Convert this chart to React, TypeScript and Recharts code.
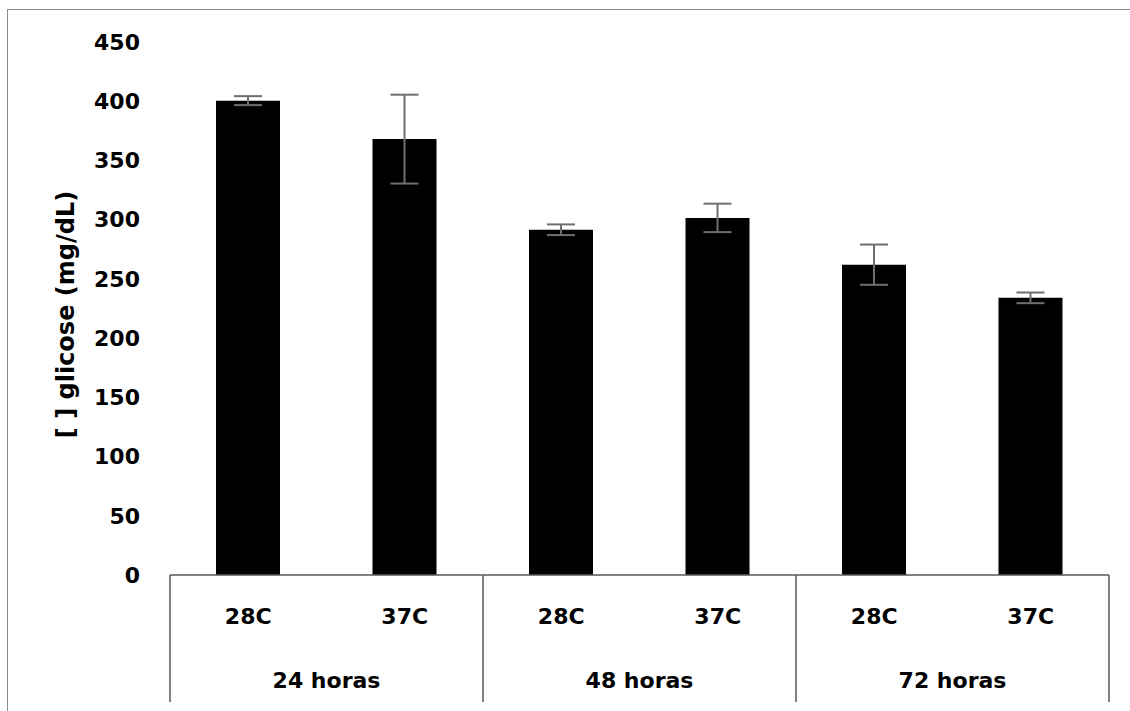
import { Bar, BarChart, ErrorBar, Label, XAxis, YAxis } from "recharts";

const temps = ["28C", "37C", "28C", "37C", "28C", "37C"];
const groups = ["24 horas", "24 horas", "48 horas", "48 horas", "72 horas", "72 horas"];
const glucose = [400.5, 368, 291.5, 301.5, 262, 234];
const glucoseErr = [3.8, 37.5, 4.5, 12, 17, 4.5];
const yTicks = [0, 50, 100, 150, 200, 250, 300, 350, 400, 450];

const data = temps.map((t, i) => ({
  temp: t,
  group: groups[i],
  value: glucose[i],
  err: glucoseErr[i],
}));

const FONT = "'DejaVu Sans', sans-serif";
const AXIS = "#595959";

function CategoryTick(props: any) {
  const { x, y, index, payload, width, visibleTicksCount } = props;
  const band = width / visibleTicksCount;
  const first = index === 0 || groups[index - 1] !== groups[index];
  const last = index === visibleTicksCount - 1;
  return (
    <g>
      <text
        x={x}
        y={y + 41}
        textAnchor="middle"
        dominantBaseline="central"
        fontFamily={FONT}
        fontWeight="bold"
        fontSize={22}
        fill="#000"
      >
        {payload.value}
      </text>
      {first && (
        <>
          <line x1={x - band / 2} x2={x - band / 2} y1={y} y2={y + 127} stroke={AXIS} strokeWidth={1.5} />
          <text
            x={x + band / 2}
            y={y + 105}
            textAnchor="middle"
            dominantBaseline="central"
            fontFamily={FONT}
            fontWeight="bold"
            fontSize={22}
            fill="#000"
          >
            {groups[index]}
          </text>
        </>
      )}
      {last && (
        <line x1={x + band / 2} x2={x + band / 2} y1={y} y2={y + 127} stroke={AXIS} strokeWidth={1.5} />
      )}
    </g>
  );
}

export default function App() {
  return (
    <div style={{ position: "absolute", left: 0, top: 0, width: 1130, height: 711, background: "#fff" }}>
      <div
        style={{
          position: "absolute",
          left: 7,
          top: 9,
          width: 1130,
          height: 711,
          borderLeft: "1px solid #8a8a8a",
          borderTop: "1px solid #8a8a8a",
        }}
      />
      <BarChart
        width={1130}
        height={711}
        data={data}
        margin={{ top: 42, right: 21, bottom: 0, left: 0 }}
        style={{ position: "absolute", left: 0, top: 0 }}
      >
        <XAxis
          dataKey="temp"
          height={136}
          tickLine={false}
          tickSize={0}
          tickMargin={0}
          interval={0}
          axisLine={{ stroke: AXIS, strokeWidth: 1.5 }}
          tick={<CategoryTick />}
        />
        <YAxis
          width={170}
          domain={[0, 450]}
          ticks={yTicks}
          axisLine={false}
          tickLine={false}
          tickSize={0}
          tickMargin={30}
          tick={{ fontFamily: FONT, fontWeight: "bold", fontSize: 22, fill: "#000" }}
        >
          <Label
            content={(p: any) => {
              const vb = p.viewBox;
              const cx = vb.x + 66;
              const cy = vb.y + vb.height / 2 + 6;
              return (
                <text
                  x={cx}
                  y={cy}
                  transform={`rotate(-90 ${cx} ${cy})`}
                  textAnchor="middle"
                  dominantBaseline="central"
                  fontFamily={FONT}
                  fontWeight="bold"
                  fontSize={24}
                  fill="#000"
                >
                  [ ] glicose (mg/dL)
                </text>
              );
            }}
          />
        </YAxis>
        <Bar dataKey="value" fill="#000" barSize={64} isAnimationActive={false}>
          <ErrorBar dataKey="err" width={14} stroke="#6f6f6f" strokeWidth={2} />
        </Bar>
      </BarChart>
    </div>
  );
}
